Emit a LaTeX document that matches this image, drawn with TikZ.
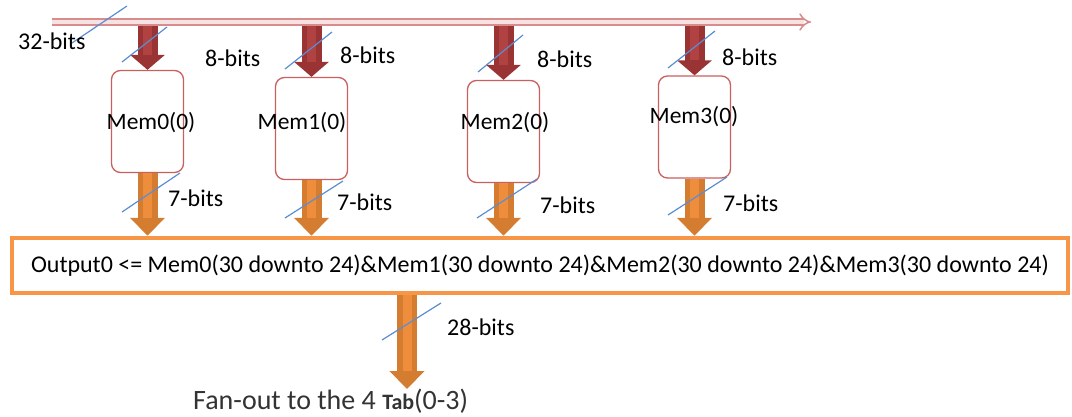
\documentclass[tikz,border=0pt]{standalone}
\usepackage{fontspec}
\setmainfont{Carlito}
\usetikzlibrary{
	arrows.meta,
	calc,
	positioning
}
\definecolor{busedge}{HTML}{D88C8C}
\definecolor{busfill}{HTML}{F6E2E2}
\definecolor{memedge}{HTML}{C9605D}
\definecolor{redarr}{HTML}{9A3434}
\definecolor{redhi}{HTML}{B04242}
\definecolor{orgarr}{HTML}{D47C30}
\definecolor{orghi}{HTML}{EE8E3C}
\definecolor{outedge}{HTML}{F79646}
\definecolor{slashblue}{HTML}{5B8DD3}

\begin{document}
\begin{tikzpicture}[
	x=1pt, y=-1pt,
	membox/.style={
		draw=memedge, line width=1.3pt, rounded corners=9pt, fill=white,
		minimum width=72pt, minimum height=102pt, inner sep=0pt
	},
	memtext/.style={font=\fontsize{23.5}{25}\selectfont, inner sep=0pt},
	outbox/.style={
		draw=outedge, line width=4.5pt, fill=white,
		minimum width=1056pt, minimum height=55pt, inner sep=0pt,
		font=\fontsize{24}{26}\selectfont
	},
	redarrow/.style={
		line width=20pt, redarr, -{Triangle[width=34pt,length=15pt]},
		postaction={draw=redhi, line width=9pt, -, shorten >=15pt}
	},
	orgarrow/.style={
		line width=20pt, orgarr, -{Triangle[width=34pt,length=18pt]},
		postaction={draw=orghi, line width=9pt, -, shorten >=18pt}
	},
	slash/.style={slashblue, line width=1.2pt},
	bitlabel/.style={anchor=west, inner sep=0pt, font=\fontsize{24}{26}\selectfont}
	]
	
	\useasboundingbox (0,0) rectangle (1072,416);
	
	% Memory blocks
	\node[membox] (mem0) at (147.5,121.5) {};
	\node[membox] (mem1) at (311.5,128.5) {};
	\node[membox] (mem2) at (503.5,131.5) {};
	\node[membox] (mem3) at (694.5,127) {};
	
	\node[memtext] (mem0txt) at (151,123) {Mem0(0)};
	\node[memtext] (mem1txt) at (302,123) {Mem1(0)};
	\node[memtext] (mem2txt) at (505,123) {Mem2(0)};
	\node[memtext] (mem3txt) at (694,117) {Mem3(0)};
	
	% Output assignment
	\node[outbox] (out) at (540,265.5) {Output0 <= Mem0(30 downto 24)\&Mem1(30 downto 24)\&Mem2(30 downto 24)\&Mem3(30 downto 24)};
	
	% Fan-out text
	\node[anchor=west, inner sep=0pt, text=black!80, font=\fontsize{28}{30}\selectfont] (fan) at (193,401)
		{Fan-out to the 4 {\fontsize{22}{24}\selectfont\bfseries Tab}(0-3)};
	
	% 32-bit bus
	\coordinate (busL) at (52,22);
	\coordinate (busR) at (811,22);
	
	% --- Data paths ---
	
	% Bus to memories
	\draw[redarrow] (mem0.north |- 0,26) -- (mem0.north);
	\draw[redarrow] (mem1.north |- 0,26) -- (mem1.north);
	\draw[redarrow] (mem2.north |- 0,26) -- (mem2.north);
	\draw[redarrow] (mem3.north |- 0,26) -- (mem3.north);
	
	\draw[busedge, line width=1.5pt, double=busfill, double distance=4.5pt, -{Implies}] (busL) -- (busR);
	
	% Memories to output
	\draw[orgarrow] (mem0.south) -- (mem0.south |- out.north);
	\draw[orgarrow] (mem1.south) -- (mem1.south |- out.north);
	\draw[orgarrow] (mem2.south) -- (mem2.south |- out.north);
	\draw[orgarrow] (mem3.south) -- (mem3.south |- out.north);
	
	% Output to fan-out
	\coordinate (fanin) at (407,389);
	\draw[orgarrow] (out.south -| fanin) -- (fanin);
	
	% Width marks
	\draw[slash] (72,43) -- (127,6);
	\draw[slash] (122,62) -- (167,27);
	\draw[slash] (285,69) -- (332,32);
	\draw[slash] (478,72) -- (523,35);
	\draw[slash] (668,68) -- (715,31);
	\draw[slash] (122,212) -- (180,173);
	\draw[slash] (285,218) -- (343,181);
	\draw[slash] (477,218) -- (537,179);
	\draw[slash] (668,215) -- (727,177);
	\draw[slash] (382,340) -- (441,303);
	
	\node[bitlabel] (w32) at (18,41) {32-bits};
	\node[bitlabel] (w8a) at (205,58) {8-bits};
	\node[bitlabel] (w8b) at (340,55) {8-bits};
	\node[bitlabel] (w8c) at (537,59) {8-bits};
	\node[bitlabel] (w8d) at (722,57) {8-bits};
	\node[bitlabel] (w7a) at (168,198) {7-bits};
	\node[bitlabel] (w7b) at (337,202) {7-bits};
	\node[bitlabel] (w7c) at (540,205) {7-bits};
	\node[bitlabel] (w7d) at (723,203) {7-bits};
	\node[bitlabel] (w28) at (447,327) {28-bits};
\end{tikzpicture}
\end{document}
